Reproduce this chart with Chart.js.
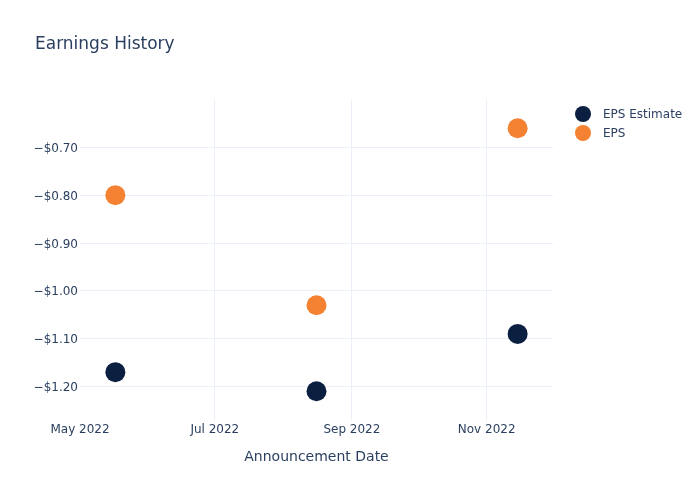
<!DOCTYPE html>
<html>
<head>
<meta charset="utf-8">
<script src="https://cdn.jsdelivr.net/npm/chart.js@4.4.1/dist/chart.umd.min.js"></script>
<style>
  html, body { margin: 0; padding: 0; background: #fff; }
  canvas { display: block; }
</style>
</head>
<body>
<canvas id="chart-earnings" width="700" height="500"></canvas>
<script>
const ANNOUNCE_DATES = ['2022-05-17', '2022-08-16', '2022-11-15'];
const EPS_ESTIMATE = [-1.17, -1.21, -1.09];
const EPS_ACTUAL = [-0.80, -1.03, -0.66];
const X_TICK_DATES = ['2022-05-01', '2022-07-01', '2022-09-01', '2022-11-01'];
const X_TICK_LABELS = ['May 2022', 'Jul 2022', 'Sep 2022', 'Nov 2022'];
const X_RANGE = ['2022-05-01', '2022-12-01'];
const Y_TICKS = [-1.2, -1.1, -1.0, -0.9, -0.8, -0.7];
const Y_RANGE = [-1.27, -0.601];

const TEXT = '#2a3f5f';
const GRID = '#ebf0f8';
const FONT = '"DejaVu Sans", Verdana, sans-serif';

const toTs = d => Date.parse(d + 'T00:00:00Z');
const pts = vals => ANNOUNCE_DATES.map((d, i) => ({ x: toTs(d), y: vals[i] }));
const tickLabel = {};
X_TICK_DATES.forEach((d, i) => { tickLabel[toTs(d)] = X_TICK_LABELS[i]; });

// title + legend drawn by hand, plotly style
const decor = {
  id: 'decor',
  afterDraw(chart) {
    const ctx = chart.ctx;
    ctx.save();
    ctx.fillStyle = TEXT;
    ctx.textBaseline = 'middle';
    ctx.textAlign = 'left';
    ctx.font = '17px ' + FONT;
    ctx.fillText('Earnings History', 35, 45);
    ctx.font = '12px ' + FONT;
    chart.data.datasets.forEach((ds, i) => {
      const y = 114 + i * 19;
      ctx.beginPath();
      ctx.arc(583, y, 8, 0, Math.PI * 2);
      ctx.fillStyle = ds.backgroundColor;
      ctx.fill();
      ctx.fillStyle = TEXT;
      ctx.fillText(ds.label, 603, y + 1);
    });
    ctx.restore();
  }
};

new Chart(document.getElementById('chart-earnings'), {
  type: 'scatter',
  data: {
    datasets: [
      { label: 'EPS Estimate', data: pts(EPS_ESTIMATE), backgroundColor: '#0b1f41', borderWidth: 0, pointRadius: 10 },
      { label: 'EPS', data: pts(EPS_ACTUAL), backgroundColor: '#f58232', borderWidth: 0, pointRadius: 10 }
    ]
  },
  options: {
    responsive: false, animation: false,
    layout: { padding: { left: 0, right: 147, top: 100, bottom: 0 } },
    plugins: { legend: { display: false }, tooltip: { enabled: false } },
    scales: {
      x: {
        type: 'linear',
        min: toTs(X_RANGE[0]), max: toTs(X_RANGE[1]),
        afterBuildTicks: s => { s.ticks = X_TICK_DATES.map(d => ({ value: toTs(d) })); },
        afterFit: s => { s.height = 80; },
        ticks: { color: TEXT, font: { family: FONT, size: 12 }, padding: 3, maxRotation: 0, autoSkip: false,
          callback: v => tickLabel[v] || '' },
        grid: { color: c => c.index === 0 ? 'rgba(0,0,0,0)' : GRID, drawTicks: false },
        border: { display: false },
        title: { display: true, text: 'Announcement Date', color: TEXT, font: { family: FONT, size: 14 }, padding: { top: 0, bottom: 34 } }
      },
      y: {
        min: Y_RANGE[0], max: Y_RANGE[1],
        afterBuildTicks: s => { s.ticks = Y_TICKS.map(v => ({ value: v })); },
        afterFit: s => { s.width = 80; },
        ticks: { color: TEXT, font: { family: FONT, size: 12 }, padding: 2, labelOffset: 1.5,
          callback: v => (v < 0 ? '\u2212' : '') + '$' + Math.abs(v).toFixed(2) },
        grid: { color: GRID, drawTicks: false },
        border: { display: false }
      }
    }
  },
  plugins: [decor]
});
</script>
</body>
</html>
